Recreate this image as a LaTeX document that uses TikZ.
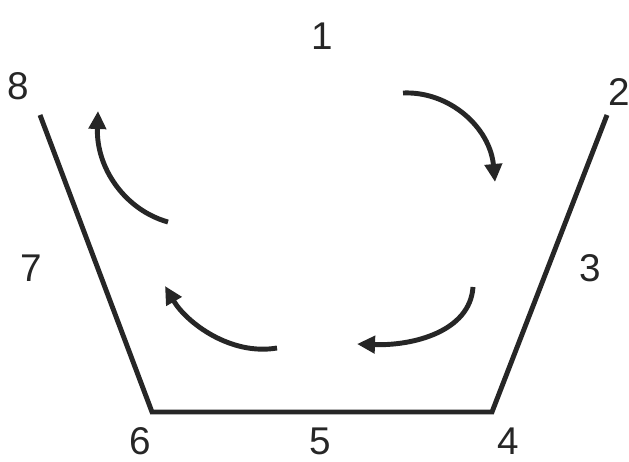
\documentclass[tikz,border=0pt]{standalone}
\usepackage{fontspec}
\setmainfont{Liberation Sans}
\usetikzlibrary{arrows.meta}
\tikzset{
  wall/.style  = {line width=2.8pt, draw=black!85, line join=miter},
  turn/.style  = {-{Triangle[length=3.6mm, width=3.4mm]}, line width=2.8pt, draw=black!85},
  num/.style   = {font=\fontsize{22}{26}\selectfont, inner sep=0pt, text=black!85},
}

\begin{document}
\begin{tikzpicture}[x=0.02cm, y=-0.02cm]
\useasboundingbox (0,0) rectangle (629,462);

% outline
\coordinate (p8) at (40,115);
\coordinate (p6) at (152,412);
\coordinate (p4) at (492,412);
\coordinate (p2) at (607,115);
\draw[wall] (p8) -- (p6) -- (p4) -- (p2);

% position labels
\node[num] (n1) at (322,36)  {1};
\node[num] (n2) at (619,92)  {2};
\node[num] (n3) at (590,268) {3};
\node[num] (n4) at (508,441) {4};
\node[num] (n5) at (320,441) {5};
\node[num] (n6) at (140,441) {6};
\node[num] (n7) at (31,268)  {7};
\node[num] (n8) at (18,86)   {8};

% circulation arrows
\coordinate (a1) at (403,93);  \coordinate (b1) at (495,182);
\coordinate (a2) at (473,287); \coordinate (b2) at (357,344);
\coordinate (a3) at (277,348); \coordinate (b3) at (165,286);
\coordinate (a4) at (168,222); \coordinate (b4) at (98,111);
\draw[turn] (a1) .. controls (450,91) and (490,128) .. (b1);
\draw[turn] (a2) .. controls (470,332) and (412,346) .. (b2);
\draw[turn] (a3) .. controls (230,356) and (186,322) .. (b3);
\draw[turn] (a4) .. controls (125,210) and (96,168) .. (b4);
\end{tikzpicture}
\end{document}
